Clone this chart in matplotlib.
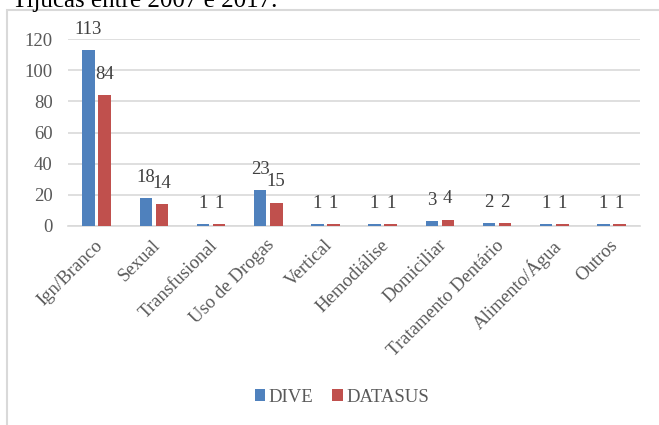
import matplotlib
matplotlib.use("Agg")
import matplotlib.pyplot as plt
import matplotlib.transforms as mtransforms
from matplotlib.patches import Rectangle
import numpy as np

# Dados do gráfico
categorias = ["Ign/Branco", "Sexual", "Transfusional", "Uso de Drogas", "Vertical",
              "Hemodiálise", "Domiciliar", "Tratamento Dentário", "Alimento/Água", "Outros"]
dive = [113, 18, 1, 23, 1, 1, 3, 2, 1, 1]
datasus = [84, 14, 1, 15, 1, 1, 4, 2, 1, 1]
series = ["DIVE", "DATASUS"]
yticks = [0, 20, 40, 60, 80, 100, 120]

azul = "#4F81BD"
vermelho = "#C0504D"
cinza_txt = "#595959"
cinza_grade = "#D9D9D9"
fs = 13.5

plt.rcParams["font.family"] = ["Liberation Serif", "DejaVu Serif"]

W, H = 659, 425
fig = plt.figure(figsize=(W / 100, H / 100), dpi=100)

# borda da área do gráfico (cortada pela captura)
fig.patches.append(Rectangle((7 / W, -0.1), 1.2, 1 - 10 / H + 0.1, transform=fig.transFigure,
                             fill=False, edgecolor=cinza_grade, linewidth=1.5))

# título cortado no topo
fig.text(12 / W, 1 - 7 / H, "Tijucas entre 2007 e 2017.", fontsize=18, color="black",
         ha="left", va="baseline")

ax = fig.add_axes([68 / W, 1 - 226 / H, (640 - 68) / W, (226 - 39) / H])

x = np.arange(len(categorias))
larg = 0.22
desl = 0.14
b1 = ax.bar(x - desl, dive, larg, color=azul, label=series[0], zorder=3)
b2 = ax.bar(x + desl, datasus, larg, color=vermelho, label=series[1], zorder=3)

for barras in (b1, b2):
    for r in barras:
        ax.annotate(str(int(r.get_height())), (r.get_x() + r.get_width() / 2, r.get_height()),
                    xytext=(0, 15), textcoords="offset points", ha="center", va="center",
                    fontsize=fs, color="#404040", zorder=4)

ax.set_xlim(-0.5, len(categorias) - 0.5)
ax.set_ylim(0, 120)
ax.set_yticks(yticks)
ax.yaxis.grid(True, color=cinza_grade, linewidth=1.2, zorder=0)
ax.set_axisbelow(True)
for s in ["top", "right", "left"]:
    ax.spines[s].set_visible(False)
ax.spines["bottom"].set_color(cinza_grade)
ax.spines["bottom"].set_linewidth(1.2)
ax.tick_params(axis="y", length=0, pad=11, labelsize=fs, labelcolor=cinza_txt)
ax.tick_params(axis="x", length=0, pad=12, labelsize=fs, labelcolor=cinza_txt)

ax.set_xticks(x)
ax.set_xticklabels(categorias, rotation=45, ha="right", va="center", rotation_mode="anchor")
off = mtransforms.ScaledTranslation(4 / 100, 0, fig.dpi_scale_trans)
for lab in ax.get_xticklabels():
    lab.set_transform(lab.get_transform() + off)

fig.legend(handles=[b1, b2], labels=series, loc="center", bbox_to_anchor=(342 / W, 1 - 397 / H),
           ncol=2, frameon=False, fontsize=fs, labelcolor=cinza_txt, handlelength=0.55,
           handleheight=0.55, handletextpad=0.2, columnspacing=1.0)

fig.savefig("out.png", dpi=100)
